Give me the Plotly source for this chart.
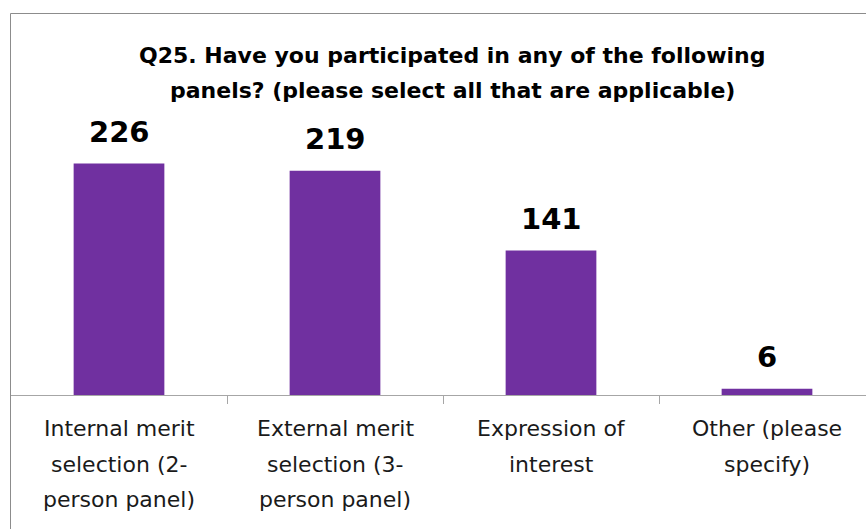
import plotly.graph_objects as go

categories = ["Internal merit<br>selection (2-<br>person panel)",
              "External merit<br>selection (3-<br>person panel)",
              "Expression of<br>interest",
              "Other (please<br>specify)"]
values = [226, 219, 141, 6]
title_lines = ["Q25. Have you participated in any of the following",
               "panels? (please select all that are applicable)"]

W, H = 866, 529
FONT = "DejaVu Sans, sans-serif"
BAR = "#7030A0"

x_idx = list(range(len(categories)))

fig = go.Figure()
fig.add_trace(go.Bar(x=x_idx, y=values, width=0.42, marker=dict(color=BAR, line=dict(width=0)),
                     hoverinfo="skip"))

# x axis: plot from 11px, category width 216px
x0px = 11
cat_w = 216
plot_w = W - x0px
fig.update_xaxes(domain=[x0px / W, 1], range=[-0.5, -0.5 + plot_w / cat_w],
                 tickmode="array", tickvals=[i + 0.5 for i in x_idx[:-1]], ticktext=["" for _ in x_idx[:-1]],
                 ticks="outside", ticklen=8, tickcolor="#a6a6a6", tickwidth=1,
                 showline=True, linecolor="#a6a6a6", linewidth=1, showgrid=False, zeroline=False,
                 fixedrange=True)
# y axis: 0 at 395px, 250 at 139px
y_bot = 395
y_top = 139
fig.update_yaxes(domain=[(H - y_bot) / H, (H - y_top) / H], range=[0, 250], visible=False,
                 showgrid=False, zeroline=False, fixedrange=True)

annotations = []
for i, v in enumerate(values):
    annotations.append(dict(x=i, y=v, xref="x", yref="y", text=f"<b>{v}</b>", showarrow=False,
                            yanchor="middle", yshift=32,
                            font=dict(family=FONT, size=29, color="#000000")))
line_y = [428, 464, 499]
for i, c in enumerate(categories):
    for j, ln in enumerate(c.split("<br>")):
        annotations.append(dict(x=i, y=1 - line_y[j] / H, xref="x", yref="paper", text=ln, showarrow=False,
                                yanchor="middle", font=dict(family=FONT, size=22, color="#1a1a1a")))
title_y = [55, 91]
for j, t in enumerate(title_lines):
    annotations.append(dict(x=452 / W, y=1 - title_y[j] / H, xref="paper", yref="paper", text=f"<b>{t}</b>",
                            showarrow=False, xanchor="center", yanchor="middle",
                            font=dict(family=FONT, size=22, color="#000000")))

fig.update_layout(
    width=W, height=H, margin=dict(l=0, r=0, t=0, b=0),
    paper_bgcolor="white", plot_bgcolor="white", showlegend=False,
    annotations=annotations,
    shapes=[dict(type="rect", xref="paper", yref="paper", x0=10.5 / W, x1=1.02, y0=-0.02, y1=1 - 13.5 / H,
                 line=dict(color="#8c8c8c", width=1), fillcolor="rgba(0,0,0,0)", layer="above")],
)

fig.write_html("out.html", config={"displayModeBar": False, "staticPlot": True},
               post_script="document.body.style.margin='0';document.body.style.overflow='hidden';")
